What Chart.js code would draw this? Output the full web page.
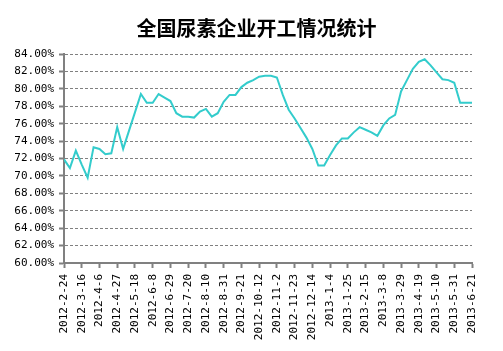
<!DOCTYPE html>
<html>
<head>
<meta charset="utf-8">
<script src="https://cdn.jsdelivr.net/npm/chart.js@4"></script>
<style>
  html, body { margin: 0; padding: 0; background: #fff; }
  #wrap { width: 503px; height: 351px; }
</style>
</head>
<body>
<div id="wrap"><canvas id="chartJS" width="503" height="351"></canvas></div>
<script>
// 开工率 (%), 周数据 2012-2-24 ~ 2013-6-21
const rates = [
  71.9, 70.9, 72.9, 71.3, 69.8, 73.3, 73.1, 72.5, 72.6, 75.6,
  73.1, 75.2, 77.3, 79.4, 78.4, 78.4, 79.4, 79.0, 78.6, 77.2,
  76.8, 76.8, 76.7, 77.4, 77.7, 76.8, 77.2, 78.5, 79.3, 79.3,
  80.2, 80.7, 81.0, 81.4, 81.5, 81.5, 81.3, 79.3, 77.6, 76.6,
  75.5, 74.4, 73.1, 71.2, 71.2, 72.4, 73.5, 74.3, 74.3, 75.0,
  75.6, 75.3, 75.0, 74.6, 75.8, 76.6, 77.0, 79.7, 81.0, 82.3,
  83.1, 83.4, 82.7, 81.9, 81.1, 81.0, 80.7, 78.4, 78.4, 78.4
];
// x 轴标签, 每三周一个
const tickLabels = [
  '2012-2-24', '2012-3-16', '2012-4-6', '2012-4-27', '2012-5-18', '2012-6-8',
  '2012-6-29', '2012-7-20', '2012-8-10', '2012-8-31', '2012-9-21', '2012-10-12',
  '2012-11-2', '2012-11-23', '2012-12-14', '2013-1-4', '2013-1-25', '2013-2-15',
  '2013-3-8', '2013-3-29', '2013-4-19', '2013-5-10', '2013-5-31', '2013-6-21'
];
const yTicks = [60, 62, 64, 66, 68, 70, 72, 74, 76, 78, 80, 82, 84];

const tickFont = { family: '"DejaVu Sans Mono", monospace', size: 11 };

const cfg = {
  type: 'line',
  data: {
    datasets: [{
      label: '开工率',
      data: rates.map((v, i) => ({ x: i, y: v })),
      borderColor: '#33CCCC',
      borderWidth: 2,
      pointRadius: 0,
      tension: 0,
      fill: false
    }]
  },
  options: {
    animation: false,
    responsive: false,
    // 标题稍微偏右, 右侧空白用一个看不见的轴撑开
    layout: { padding: { left: 10, right: 0, top: 0, bottom: 0 } },
    plugins: {
      legend: { display: false },
      tooltip: { enabled: false },
      title: {
        display: true,
        text: '全国尿素企业开工情况统计',
        color: '#000',
        font: { family: '"Noto Sans CJK SC"', size: 20, weight: 'bold' },
        padding: { top: 16, bottom: 14 }
      }
    },
    scales: {
      x: {
        type: 'linear',
        min: 0,
        max: rates.length - 1,
        afterBuildTicks: s => { s.ticks = tickLabels.map((t, i) => ({ value: i * 3 })); },
        afterFit: s => { s.height = 88; },
        ticks: {
          autoSkip: false,
          maxRotation: 90,
          minRotation: 90,
          padding: 6,
          color: '#000',
          font: tickFont,
          callback: v => tickLabels[Math.round(v / 3)]
        },
        grid: { drawOnChartArea: false, drawTicks: true, tickLength: 5, color: '#808080', tickWidth: 2 },
        border: { color: '#808080', width: 2 }
      },
      y: {
        min: 60,
        max: 84,
        afterBuildTicks: s => { s.ticks = yTicks.map(v => ({ value: v })); },
        afterFit: s => { s.width = 54; },
        ticks: {
          padding: 5,
          color: '#000',
          font: tickFont,
          callback: v => v.toFixed(2) + '%'
        },
        grid: { color: '#808080', lineWidth: 1, tickLength: 5, tickWidth: 2, tickBorderDash: [] },
        border: { color: '#808080', width: 2, dash: [3, 2] }
      },
      spacer: {
        type: 'linear',
        position: 'right',
        min: 0,
        max: 1,
        afterFit: s => { s.width = 31; },
        ticks: { display: false },
        grid: { display: false },
        border: { display: false }
      }
    }
  }
};

new Chart(document.getElementById('chartJS'), cfg);
</script>
</body>
</html>
